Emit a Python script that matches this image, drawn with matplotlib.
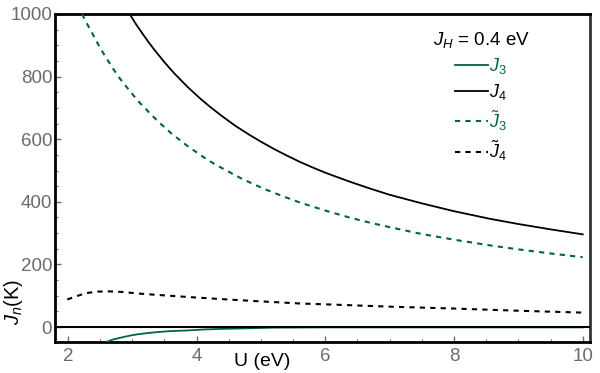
import matplotlib
matplotlib.use("Agg")
import matplotlib.pyplot as plt
from matplotlib.ticker import MultipleLocator

plt.rcParams['font.family'] = ['Liberation Sans', 'DejaVu Sans']
plt.rcParams['mathtext.fontset'] = 'custom'
plt.rcParams['mathtext.rm'] = 'Liberation Sans'
plt.rcParams['mathtext.it'] = 'Liberation Sans:italic'

GREEN = '#00663c'
GRAY = '#6b6b6b'

# J4 (solid black)
u_j4 = [2.96, 3.05, 3.15, 3.25, 3.35, 3.5, 3.65, 3.86, 4.05, 4.2, 4.38,
        4.6, 4.82, 5.0, 5.2, 5.4, 5.6, 5.8, 6.0, 6.37, 6.7, 6.99, 7.5,
        8.0, 8.55, 9.0, 9.5, 10.0]
j4 = [1000, 970, 940, 911, 884, 846, 811, 767, 731, 705, 676,
      643, 614, 592, 569, 548, 528, 510, 493, 465, 442, 423, 395,
      370, 346, 329, 312, 296]

# J3 tilde (dashed green)
u_j3t = [2.22, 2.3, 2.4, 2.5, 2.57, 2.7, 2.8, 2.95, 3.09, 3.25, 3.4, 3.61,
         3.86, 4.12, 4.3, 4.5, 4.7, 4.9, 5.1, 5.3, 5.6, 6.0, 6.37, 6.7,
         7.0, 7.5, 8.0, 8.55, 9.0, 9.5, 10.0]
j3t = [1000, 968, 930, 892, 868, 826, 796, 757, 722, 688, 657, 618,
       578, 541, 518, 496, 474, 455, 437, 421, 398, 372, 350, 333,
       319, 297, 279, 261, 248, 235, 223]

# J4 tilde (dotted black)
u_j4t = [1.99, 2.1, 2.2, 2.31, 2.45, 2.62, 2.85, 3.09, 3.5, 3.86, 4.4, 4.9,
         5.62, 6.07, 7.0, 8.0, 9.0, 10.0]
j4t = [88, 96, 103, 109, 113, 114, 112, 107, 101, 96, 89, 83,
       75, 72, 65, 59, 52, 46]

# J3 (solid green)
u_j3 = [2.62, 2.7, 2.8, 2.95, 3.09, 3.25, 3.4, 3.6, 3.86, 4.1, 4.38, 4.6,
        4.8, 5.0, 5.2, 5.6, 6.0, 7.0, 8.0, 9.0, 10.0]
j3 = [-46, -40, -35, -28, -23, -19, -16, -13, -11, -8, -6, -5,
      -4, -3, -2, -1.5, -1, -1, -1, -1, -1]

fig = plt.figure(figsize=(6, 3.73), dpi=100)
ax = fig.add_axes([0.0917, 0.083, 0.8913, 0.8795])

ax.axhline(0, color='black', lw=1.5, zorder=4)
ax.plot(u_j3, j3, color=GREEN, lw=1.3, label='$J_3$', zorder=3)
ax.plot(u_j4, j4, color='black', lw=1.3, label='$J_4$', zorder=3)
ax.plot(u_j3t, j3t, color=GREEN, lw=1.5, ls=(0, (2.5, 2.5)),
        label=r'$\tilde{J}_3$', zorder=3)
ax.plot(u_j4t, j4t, color='black', lw=1.5, ls=(0, (2.5, 2.5)),
        label=r'$\tilde{J}_4$', zorder=3)

ax.set_xlim(1.8, 10.11)
ax.set_ylim(-48, 1000)
ax.xaxis.set_major_locator(MultipleLocator(2))
ax.xaxis.set_minor_locator(MultipleLocator(0.5))
ax.yaxis.set_major_locator(MultipleLocator(200))
ax.yaxis.set_minor_locator(MultipleLocator(50))
ax.tick_params(which='both', direction='in', colors=GRAY, labelsize=13.5,
               labelcolor=GRAY)
ax.tick_params(which='major', length=4, width=1)
ax.tick_params(which='minor', length=2.5, width=0.8)
ax.tick_params(axis='y', pad=2)
ax.tick_params(axis='x', pad=4)

for side in ['left', 'top', 'bottom']:
    ax.spines[side].set_linewidth(2)
    ax.spines[side].set_color('black')
ax.spines['right'].set_linewidth(2)
ax.spines['right'].set_color('#333333')

fig.text(0.437, 0.03, 'U (eV)', fontsize=14, ha='center', va='center')
fig.text(0.022, 0.19, '$J_n$(K)', fontsize=14.5, rotation=90,
         ha='center', va='center')

leg = ax.legend(loc='upper left', bbox_to_anchor=(0.676, 1.0),
                title='$J_H$ = 0.4 eV', fontsize=13, title_fontsize=13.5,
                frameon=False, handlelength=1.8, handletextpad=0.1,
                labelspacing=0.33)
leg.get_title().set_ha('center')
for txt, col in zip(leg.get_texts(), [GREEN, 'black', GREEN, 'black']):
    txt.set_color(col)

fig.savefig('out.png', dpi=100)
